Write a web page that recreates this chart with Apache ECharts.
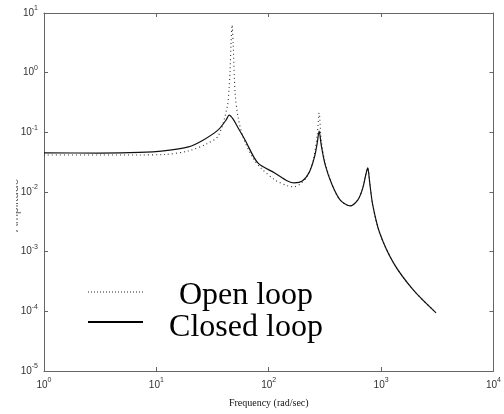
<!DOCTYPE html>
<html>
<head>
<meta charset="utf-8">
<script src="https://cdn.jsdelivr.net/npm/echarts@6/dist/echarts.min.js"></script>
<style>html,body{margin:0;padding:0;background:#fff}#c{width:504px;height:414px}</style>
</head>
<body>
<div id="c"></div>
<script>
// Frequency (rad/sec) and amplitude readings
const freqClosed = [1, 3.1, 7.0, 11.6, 19.3, 26.2, 35.5, 41.8, 44.4, 48.2, 53.3, 61.5, 80, 113, 147, 169, 199, 230, 254, 270, 281, 293, 318, 366, 431, 527, 621, 687, 730, 760, 792, 842, 970, 1288, 1931, 3083];
const closedLoop = [0.0452, 0.045, 0.046, 0.0488, 0.0569, 0.0746, 0.11, 0.162, 0.195, 0.167, 0.119, 0.0746, 0.0307, 0.0209, 0.0153, 0.0142, 0.0153, 0.0217, 0.0372, 0.066, 0.105, 0.0615, 0.0284, 0.0132, 0.00738, 0.00585, 0.00738, 0.0117, 0.0193, 0.0253, 0.0142, 0.00608, 0.00207, 0.000649, 0.000229, 0.0000944];
const freqOpen = [1, 3.1, 7.0, 11.6, 19.3, 28, 35.5, 42.7, 44.4, 45.3, 46.2, 47.2, 48.2, 50.2, 53.3, 59, 72.3, 85, 113, 147, 166, 191, 221, 249, 270, 281, 293, 318, 366, 431, 527, 621, 687, 730, 760, 792, 842, 970, 1288, 1931, 3083];
const openLoop = [0.0418, 0.0418, 0.0418, 0.0424, 0.0488, 0.064, 0.087, 0.266, 0.575, 1.11, 3.14, 6.3, 3.14, 0.457, 0.181, 0.0838, 0.0372, 0.0253, 0.016, 0.0127, 0.0122, 0.0137, 0.0186, 0.0346, 0.0904, 0.211, 0.0746, 0.0307, 0.0132, 0.00738, 0.00585, 0.00738, 0.0117, 0.0193, 0.0253, 0.0142, 0.00608, 0.00207, 0.000649, 0.000229, 0.0000944];
const xTickExps = [0, 1, 2, 3, 4];
const yTickExps = [1, 0, -1, -2, -3, -4, -5];
const seriesNames = ['Open loop', 'Closed loop'];
const xTitle = 'Frequency (rad/sec)';
const yTitle = 'Amplitude';

const chart = echarts.init(document.getElementById('c'), null, {renderer: 'canvas'});
const pairs = (xs, ys) => xs.map((x, i) => [x, ys[i]]);
const expFmt = v => {
  const e = Math.round(Math.log10(v));
  return '{b|10}{s|' + e + '}';
};
const rich = {
  b: {fontSize: 10, fontFamily: 'Liberation Sans, Arial', color: '#333'},
  s: {fontSize: 7, fontFamily: 'Liberation Sans, Arial', color: '#333', padding: [0, 0, 9, 0]}
};
const axisLine = {show: true, lineStyle: {color: '#666', width: 1}};
const tick = {show: true, inside: true, length: 4, lineStyle: {color: '#666'}};
const grid = {left: 44, right: 6, top: 13, bottom: 43};

chart.setOption({
  animation: false,
  backgroundColor: '#fff',
  grid: grid,
  xAxis: [
    {type: 'log', logBase: 10, min: Math.pow(10, xTickExps[0]), max: Math.pow(10, xTickExps[xTickExps.length - 1]),
     axisLine: axisLine, axisTick: tick, splitLine: {show: false}, minorTick: {show: false},
     axisLabel: {formatter: expFmt, rich: rich, margin: 6},
     name: xTitle, nameLocation: 'middle', nameGap: 27,
     nameTextStyle: {fontFamily: 'Liberation Serif, Times New Roman', fontSize: 10, color: '#111'}},
    {type: 'log', logBase: 10, position: 'top', min: 1, max: 10000,
     axisLine: axisLine, axisTick: tick, splitLine: {show: false}, axisLabel: {show: false}}
  ],
  yAxis: [
    {type: 'log', logBase: 10, min: Math.pow(10, yTickExps[yTickExps.length - 1]), max: Math.pow(10, yTickExps[0]),
     axisLine: axisLine, axisTick: tick, splitLine: {show: false}, minorTick: {show: false},
     axisLabel: {formatter: expFmt, rich: rich, margin: 6}},
    {type: 'log', logBase: 10, position: 'right', min: 1e-5, max: 10,
     axisLine: axisLine, axisTick: tick, splitLine: {show: false}, axisLabel: {show: false}}
  ],
  series: [
    {name: seriesNames[0], type: 'line', data: pairs(freqOpen, openLoop), showSymbol: false, smooth: 0.3,
     lineStyle: {color: '#333', width: 1.1, type: [1, 3]}, z: 3},
    {name: seriesNames[1], type: 'line', data: pairs(freqClosed, closedLoop), showSymbol: false, smooth: 0.3,
     lineStyle: {color: '#111', width: 1.2}, z: 4}
  ],
  graphic: [
    {type: 'text', x: 21, y: 232, rotation: Math.PI / 2,
     style: {text: yTitle, x: 0, y: 0, textVerticalAlign: 'bottom', font: '12px Liberation Sans, Arial', fill: '#666'}, z: 1},
    {type: 'rect', shape: {x: 0, y: 170, width: 16, height: 70}, style: {fill: '#fff'}, z: 2},
    {type: 'line', shape: {x1: 88, y1: 292, x2: 143, y2: 292}, style: {stroke: '#222', lineWidth: 1.2, lineDash: [1, 2]}},
    {type: 'line', shape: {x1: 88, y1: 322, x2: 143, y2: 322}, style: {stroke: '#000', lineWidth: 2}},
    {type: 'text', x: 246, y: 312, style: {text: seriesNames[0], textAlign: 'center', textVerticalAlign: 'bottom', font: '32px Liberation Serif, Times New Roman', fill: '#000'}},
    {type: 'text', x: 246, y: 344, style: {text: seriesNames[1], textAlign: 'center', textVerticalAlign: 'bottom', font: '32px Liberation Serif, Times New Roman', fill: '#000'}}
  ]
});
</script>
</body>
</html>
